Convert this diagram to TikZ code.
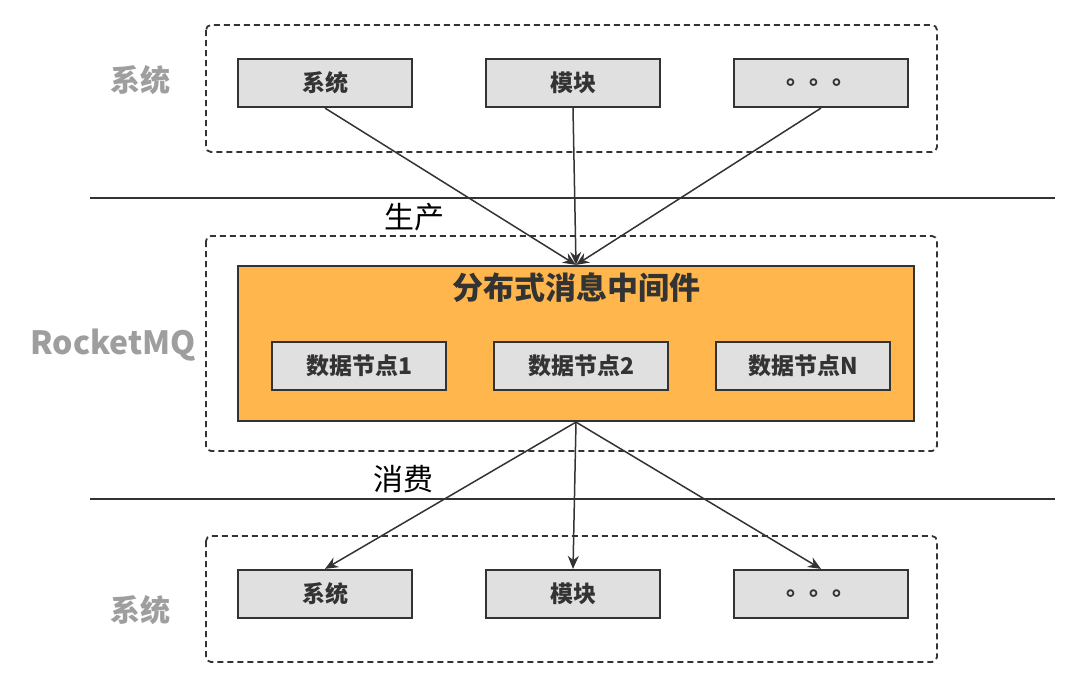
\documentclass[tikz,border=0pt]{standalone}
\usepackage{fontspec}
\setmainfont{Noto Sans CJK SC}
\usetikzlibrary{arrows.meta,backgrounds,calc,positioning,fit}
\definecolor{boxgray}{HTML}{E0E0E0}
\definecolor{edge}{HTML}{333333}
\definecolor{mqorange}{HTML}{FFB74D}
\definecolor{sidegray}{HTML}{9E9E9E}
\tikzset{
  unitbox/.style={draw=edge,line width=2.2pt,fill=boxgray,minimum width=174pt,minimum height=48pt,inner sep=0pt,font=\fontsize{23}{23}\selectfont\bfseries,text=edge},
  layerbox/.style={draw=edge,line width=1.8pt,dash pattern=on 6pt off 4pt,rounded corners=5pt},
  sidelabel/.style={font=\fontsize{30}{30}\selectfont\bfseries,text=sidegray},
  flow/.style={draw=edge,line width=1.5pt,-{Stealth[length=13pt,width=11pt]}},
  stagelabel/.style={font=\fontsize{30}{30}\selectfont,text=black}
}
\begin{document}
\begin{tikzpicture}[x=1pt,y=-1pt]
\useasboundingbox (0,0) rectangle (1081,688);
% layers
\draw[layerbox] (206,25) rectangle (937,152);
\draw[layerbox] (206,236) rectangle (937,451);
\draw[layerbox] (206,536) rectangle (937,662);
\draw[edge,line width=2pt] (90,198) -- (1055,198);
\draw[edge,line width=2pt] (90,499) -- (1055,499);
\node[sidelabel] (sysLabelTop) at (140,80) {系统};
\node[sidelabel,font=\fontsize{32}{32}\selectfont\bfseries] (mqLabel) at (113,345) {RocketMQ};
\node[sidelabel] (sysLabelBot) at (140,610) {系统};
\node[stagelabel] (produce) at (414,217) {生产};
\node[stagelabel] (consume) at (403,479) {消费};
% producers
\node[unitbox] (sysTop) at (325,83) {系统};
\node[unitbox] (modTop) at (573,83) {模块};
\node[unitbox] (etcTop) at (821,83) {。。。};
% middleware
\node[draw=edge,line width=2.2pt,fill=mqorange,minimum width=676pt,minimum height=155pt,inner sep=0pt] (mq) at (576,343.5) {};
\node[font=\fontsize{31}{31}\selectfont\bfseries,text=edge] (mqTitle) at (576,288) {分布式消息中间件};
\node[unitbox] (node1) at (359,366) {数据节点1};
\node[unitbox] (node2) at (581,366) {数据节点2};
\node[unitbox] (nodeN) at (803,366) {数据节点N};
% consumers
\node[unitbox] (sysBot) at (325,594) {系统};
\node[unitbox] (modBot) at (573,594) {模块};
\node[unitbox] (etcBot) at (821,594) {。。。};
\draw[flow] (sysTop.south) -- (mq.north);
\draw[flow] (modTop.south) -- (mq.north);
\draw[flow] (etcTop.south) -- (mq.north);
\draw[flow] (mq.south) -- (sysBot.north);
\draw[flow] (mq.south) -- (modBot.north);
\draw[flow] (mq.south) -- (etcBot.north);
\end{tikzpicture}
\end{document}
